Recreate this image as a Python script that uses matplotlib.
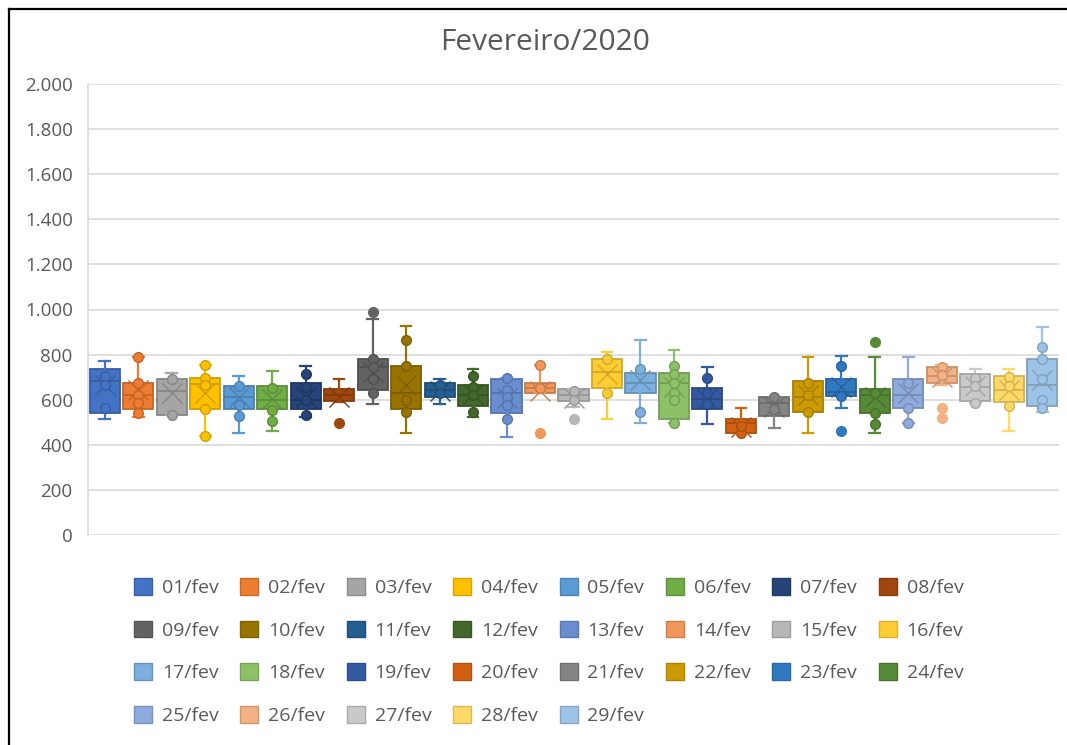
import matplotlib
matplotlib.use("Agg")
import matplotlib.pyplot as plt
import matplotlib.colors as mcolors
from matplotlib.patches import Patch
from matplotlib.lines import Line2D
from matplotlib.ticker import FuncFormatter
import numpy as np

plt.rcParams['font.family'] = ['Open Sans', 'DejaVu Sans']

TITLE = "Fevereiro/2020"
DAYS = [f"{d:02d}/fev" for d in range(1, 30)]

# Five-number summaries per day
WHISLO = [513, 525, 530, 439, 452, 460, 525, 591, 581, 451, 581, 522, 436, 628, 569,
          514, 498, 498, 491, 451, 476, 451, 562, 454, 498, 665, 587, 461, 547]
Q1 = [542, 559, 532, 559, 559, 559, 559, 596, 643, 559, 613, 572, 542, 628, 596,
      650, 628, 513, 559, 451, 528, 544, 617, 542, 562, 673, 596, 588, 574]
MED = [683, 621, 639, 668, 613, 599, 599, 621, 744, 628, 643, 621, 628, 650, 621,
       724, 673, 673, 602, 495, 584, 613, 636, 621, 621, 707, 658, 643, 665]
Q3 = [736, 676, 690, 696, 661, 661, 676, 646, 780, 751, 676, 665, 690, 673, 646,
      780, 720, 720, 653, 514, 613, 683, 690, 646, 690, 744, 713, 705, 780]
WHISHI = [773, 791, 720, 752, 704, 729, 749, 690, 956, 927, 690, 736, 698, 754, 646,
          813, 865, 820, 744, 562, 613, 788, 794, 788, 788, 754, 735, 735, 924]
MEAN = [665, 643, 628, 628, 613, 605, 613, 610, 724, 665, 640, 625, 606, 640, 606,
        714, 687, 658, 605, 480, 569, 621, 658, 610, 630, 700, 660, 645, 687]

# Individual readings shown inside the whiskers
INNER = [
    [707, 665, 562],
    [791, 676, 621, 587, 542],
    [690, 532],
    [752, 696, 665, 559, 439],
    [661, 576, 529],
    [653, 554, 507],
    [712, 658, 599, 532],
    [],
    [780, 744, 690, 628],
    [865, 751, 599, 544],
    [665, 630],
    [705, 658, 620, 544],
    [698, 643, 610, 575, 513],
    [754, 650],
    [640, 600],
    [780, 628],
    [736, 544],
    [751, 715, 673, 628, 599, 498],
    [698, 628, 580],
    [451, 485],
    [610, 560],
    [673, 620, 544],
    [749, 617],
    [630, 542, 492],
    [673, 562, 498],
    [744, 710],
    [698, 660, 587],
    [700, 660, 572],
    [835, 780, 690, 599, 562],
]

# Readings beyond the whiskers
OUTLIERS = [[], [], [], [], [], [], [], [498], [987], [], [], [], [], [454], [514],
            [], [], [], [], [], [], [], [461], [857], [], [562, 517], [], [], []]

COLORS = ["#4472C4", "#ED7D31", "#A5A5A5", "#FFC000", "#5B9BD5", "#70AD47",
          "#264478", "#9E480E", "#636363", "#997300", "#255E91", "#43682B",
          "#698ED0", "#F1975A", "#B7B7B7", "#FFCD33", "#7CAFDD", "#8CC168",
          "#335AA1", "#D26012", "#848484", "#CC9A00", "#3078C0", "#568A37",
          "#8FAADC", "#F4B183", "#C9C9C9", "#FFD966", "#9DC3E6"]

TEXT = "#595959"
GRID = "#D9D9D9"


def shade(c, f=0.8):
    r, g, b = mcolors.to_rgb(c)
    return (r * f, g * f, b * f)


W, H, DPI = 1067, 745, 100
fig = plt.figure(figsize=(W / DPI, H / DPI), dpi=DPI)
fig.patch.set_facecolor("white")

ax = fig.add_axes([88 / W, 1 - 535 / H, (1059 - 88) / W, (535 - 84) / H])

for i, day in enumerate(DAYS):
    col = COLORS[i]
    dark = shade(col, 0.82)
    stats = [dict(label=day, whislo=WHISLO[i], q1=Q1[i], med=MED[i], q3=Q3[i],
                  whishi=WHISHI[i], mean=MEAN[i], fliers=OUTLIERS[i])]
    ax.bxp(stats, positions=[i + 1], widths=0.9, capwidths=0.32,
           patch_artist=True, showmeans=True, meanline=False, showfliers=True,
           boxprops=dict(facecolor=col, edgecolor=dark, linewidth=1.3),
           whiskerprops=dict(color=col, linewidth=1.6),
           capprops=dict(color=col, linewidth=1.6),
           medianprops=dict(color=dark, linewidth=1.3),
           meanprops=dict(marker="x", markersize=14, markeredgecolor=dark,
                          markeredgewidth=1.0),
           flierprops=dict(marker="o", markersize=7, markerfacecolor=col,
                           markeredgecolor=col))
    pts = INNER[i]
    if pts:
        ax.plot(np.full(len(pts), i + 1), pts, linestyle="none", marker="o",
                markersize=7, markerfacecolor=col, markeredgecolor=dark,
                markeredgewidth=1.0, zorder=4)

ax.set_xlim(0.5, len(DAYS) + 0.5)
ax.set_ylim(0, 2000)
ax.set_yticks(np.arange(0, 2001, 200))
ax.yaxis.set_major_formatter(FuncFormatter(lambda v, p: f"{v:,.0f}".replace(",", ".")))
ax.set_xticks([])
ax.tick_params(axis="y", length=0, pad=11, labelsize=13.5, labelcolor=TEXT)
ax.grid(axis="y", color=GRID, linewidth=1.2)
ax.set_axisbelow(True)
for s in ("top", "right", "bottom"):
    ax.spines[s].set_visible(False)
ax.spines["left"].set_color(GRID)
ax.spines["left"].set_linewidth(1.2)

fig.text(545 / W, 1 - 43 / H, TITLE, ha="center", va="center",
         fontsize=21.5, color=TEXT)

# Legend filled row by row (8 per row)
handles = [Patch(facecolor=c, edgecolor=shade(c, 0.85), linewidth=1.0) for c in COLORS]
order = [r * 8 + c for c in range(8) for r in range(4) if r * 8 + c < len(DAYS)]
fig.legend([handles[k] for k in order], [DAYS[k] for k in order],
           ncol=8, loc="upper left", bbox_to_anchor=(134 / W, 1 - 578 / H),
           frameon=False, fontsize=14, labelcolor=TEXT,
           handlelength=0.93, handleheight=0.93, handletextpad=0.5,
           columnspacing=1.12, labelspacing=1.22, borderpad=0, borderaxespad=0)

# Outer frame edges
fx, fy = 9 / W, 1 - 9 / H
fig.add_artist(Line2D([fx, fx], [0, fy], color="black", linewidth=1.6,
                      transform=fig.transFigure))
fig.add_artist(Line2D([fx, 1], [fy, fy], color="black", linewidth=1.6,
                      transform=fig.transFigure))

fig.savefig("out.png", dpi=DPI)
